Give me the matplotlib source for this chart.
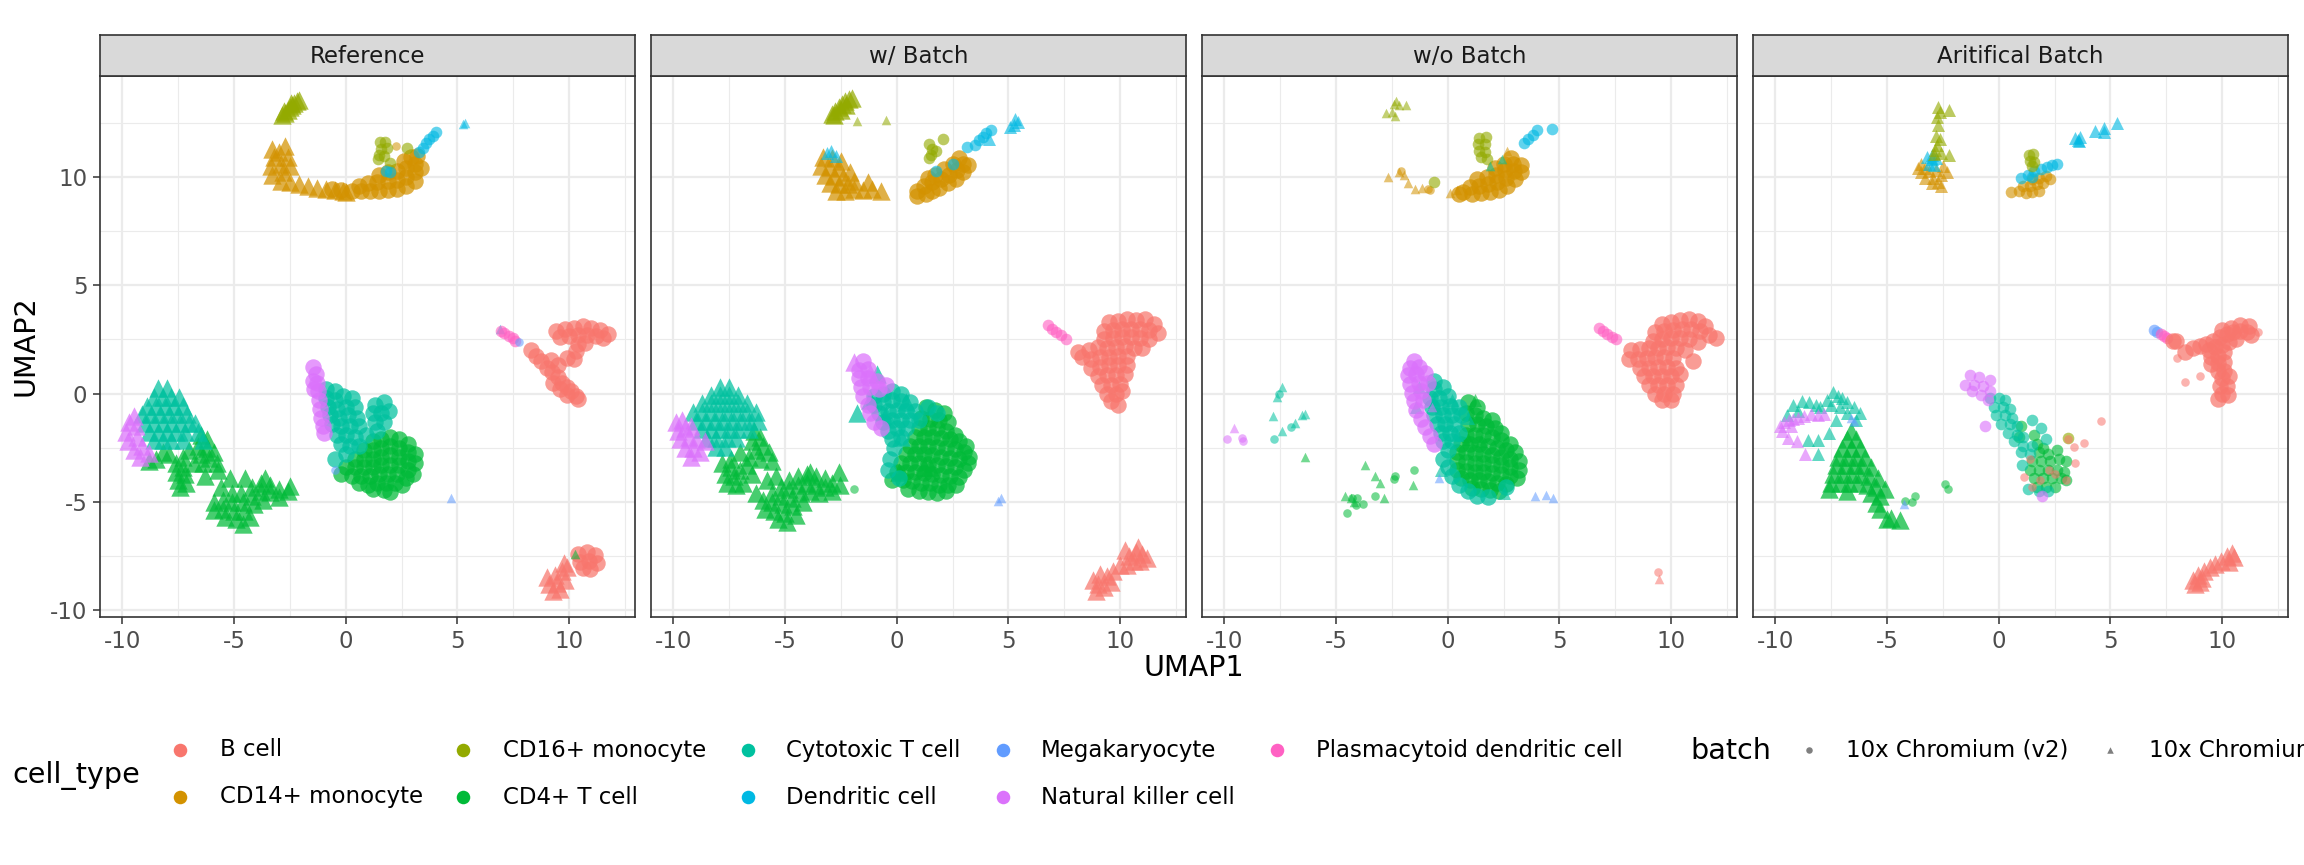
import numpy as np
import matplotlib
matplotlib.use("Agg")
import matplotlib.pyplot as plt
from matplotlib.ticker import MultipleLocator

W, H, DPI = 2304, 865, 100

panel_titles = ["Reference", "w/ Batch", "w/o Batch", "Aritifical Batch"]
cell_types = ["B cell", "CD14+ monocyte", "CD16+ monocyte", "CD4+ T cell",
              "Cytotoxic T cell", "Dendritic cell", "Megakaryocyte",
              "Natural killer cell", "Plasmacytoid dendritic cell"]
cell_colors = ["#F8766D", "#D39200", "#93AA00", "#00BA38", "#00C19F",
               "#00B9E3", "#619CFF", "#DB72FB", "#FF61C3"]
batches = ["10x Chromium (v2)", "10x Chromium (v3)"]
batch_markers = ["o", "^"]
x_ticks = [-10, -5, 0, 5, 10]
y_ticks = [-10, -5, 0, 5, 10]

# ---- Reference (v2 = circles, v3 = triangles) ----
ref_cd16_v3 = [(-2.85, 12.85), (-2.7, 12.95), (-2.6, 13.1), (-2.5, 13.2), (-2.4, 13.3),
               (-2.3, 13.4), (-2.2, 13.5), (-2.1, 13.55), (-2.75, 13.05), (-2.45, 13.4)]
ref_cd14_v3 = [(-3.3, 11.3), (-3.2, 10.9), (-3.35, 10.5), (-3.3, 10.1), (-2.9, 10.6), (-2.8, 10.2),
               (-2.6, 10.9), (-2.5, 10.5), (-2.9, 9.8), (-2.5, 9.75), (-2.1, 9.65), (-1.7, 9.6),
               (-1.3, 9.5), (-0.9, 9.45), (-0.5, 9.4), (-0.1, 9.35), (0.0, 9.3), (-2.7, 11.4),
               (-3.0, 11.15)]
ref_cd14_v2 = [(0.3, 9.35), (0.7, 9.35), (0.6, 9.6), (1.1, 9.35), (1.0, 9.7), (1.5, 9.35), (1.4, 9.75),
               (1.5, 10.1), (1.9, 9.4), (1.9, 9.8), (1.9, 10.2), (2.3, 9.45), (2.3, 9.85), (2.3, 10.25),
               (2.7, 9.6), (2.7, 10.0), (2.7, 10.4), (2.6, 10.75), (3.1, 9.8), (3.1, 10.2), (3.1, 10.6),
               (3.2, 10.95), (2.9, 10.9), (3.35, 10.4), (-0.6, 9.45), (-0.2, 9.4)]
ref_cd14_v2_sparse = [(2.27, 11.4)]
ref_cd16_v2 = [(1.55, 11.6), (1.75, 11.6), (1.6, 11.3), (1.85, 11.35), (1.5, 11.0), (1.7, 10.95),
               (1.45, 10.8), (1.99, 10.64), (2.73, 11.33)]
ref_dc_v2 = [(3.3, 11.15), (3.45, 11.35), (3.6, 11.55), (3.75, 11.75), (3.9, 11.9), (4.05, 12.05),
             (1.8, 10.25), (2.0, 10.2)]
ref_dc_v3 = [(5.33, 12.5), (5.25, 12.45), (6.9, 3.0)]
ref_pdc_v2 = [(6.95, 2.9), (7.1, 2.8), (7.3, 2.65), (7.5, 2.55), (7.6, 2.45)]
ref_mega_v2 = [(7.75, 2.4), (-0.5, -3.5)]
ref_mega_v3 = [(4.7, -4.83)]
ref_b_v2 = [(9.4, 2.9), (9.8, 3.0), (10.2, 3.05), (10.6, 3.1), (11.0, 3.05), (11.4, 2.95), (11.75, 2.75),
            (9.6, 2.6), (10.0, 2.65), (10.4, 2.7), (10.8, 2.7), (11.2, 2.65), (11.5, 2.55), (10.4, 2.3),
            (10.7, 2.35), (10.3, 1.95), (10.2, 1.6), (9.9, 1.65), (8.3, 2.0), (8.5, 1.75), (8.75, 1.5),
            (9.0, 1.2), (9.25, 1.0), (9.5, 0.75), (9.7, 0.5), (9.9, 0.3), (10.1, 0.1), (10.3, -0.1),
            (10.4, -0.25), (9.3, 0.5), (9.6, 0.2), (9.9, -0.05), (9.5, 1.3), (9.2, 1.55),
            (10.4, -7.4), (10.8, -7.3), (11.15, -7.45), (10.5, -7.75), (10.9, -7.7), (11.25, -7.8),
            (10.6, -8.05), (10.95, -8.1)]
ref_b_v3 = [(9.0, -8.45), (9.35, -8.35), (9.7, -8.2), (9.1, -8.8), (9.45, -8.75), (9.8, -8.6),
            (9.3, -9.1), (9.6, -9.0), (9.75, -7.8), (9.9, -8.0)]
ref_nk_v3 = [(-9.7, -1.3), (-9.85, -1.75), (-9.75, -2.2), (-9.5, -2.6), (-9.2, -2.9), (-9.4, -1.5),
             (-9.35, -2.0), (-9.1, -2.4), (-8.8, -2.75), (-9.5, -1.05)]
ref_cyto_v3 = [(-8.4, 0.25), (-8.0, 0.25), (-8.6, -0.15), (-8.2, -0.15), (-7.8, -0.15), (-7.45, -0.15),
               (-8.9, -0.55), (-8.5, -0.55), (-8.1, -0.55), (-7.7, -0.55), (-7.3, -0.55),
               (-9.1, -0.95), (-8.7, -0.95), (-8.3, -0.95), (-7.9, -0.95), (-7.5, -0.95), (-7.1, -0.95),
               (-9.0, -1.35), (-8.6, -1.35), (-8.2, -1.35), (-7.8, -1.35), (-7.4, -1.35), (-7.0, -1.35),
               (-6.75, -1.35), (-8.8, -1.75), (-8.4, -1.75), (-8.0, -1.75), (-7.6, -1.75), (-7.2, -1.75),
               (-6.6, -1.75), (-8.6, -2.15), (-8.2, -2.15), (-7.8, -2.15), (-7.3, -2.15), (-6.4, -2.15)]
ref_cd4_v3 = [(-6.5, -1.9), (-6.2, -2.1), (-6.6, -2.4), (-6.2, -2.5), (-5.9, -2.7), (-6.5, -2.8),
              (-6.1, -2.95), (-5.75, -3.2), (-6.4, -3.2), (-7.0, -2.6), (-7.3, -2.9), (-7.6, -3.2),
              (-7.3, -3.4), (-7.6, -3.6), (-7.2, -3.7), (-7.5, -4.0), (-7.15, -4.1), (-7.4, -4.3),
              (-8.2, -2.7), (-8.5, -3.0), (-7.9, -2.8), (-8.8, -3.1), (-6.8, -3.2), (-5.7, -3.5),
              (-5.9, -5.0), (-5.9, -5.35), (-5.5, -4.9), (-5.5, -5.3), (-5.4, -5.7), (-5.1, -4.6),
              (-5.1, -5.0), (-5.0, -5.4), (-4.9, -5.8), (-4.6, -6.0), (-4.7, -4.6), (-4.6, -5.0),
              (-4.55, -5.4), (-4.3, -5.7), (-4.2, -4.3), (-4.2, -4.7), (-4.1, -5.1), (-3.8, -4.1),
              (-3.8, -4.5), (-3.7, -4.9), (-3.4, -4.2), (-3.4, -4.55), (-3.0, -4.4), (-3.0, -4.75),
              (-2.6, -4.5), (-2.5, -4.25), (-5.6, -4.3), (-6.3, -3.8), (-5.2, -3.9), (-3.6, -3.9),
              (-4.5, -3.9)]
ref_cd4_v3_sparse = [(10.25, -7.4)]
ref_nk_v2 = [(-1.45, 1.25), (-1.35, 0.9), (-1.3, 0.5), (-1.25, 0.1), (-1.2, -0.3), (-1.15, -0.7),
             (-1.1, -1.1), (-1.0, -1.5), (-0.95, -1.8), (-1.45, 0.6), (-1.4, 0.2)]
ref_cyto_v2 = [(-0.9, 0.2), (-0.5, 0.1), (-0.9, -0.2), (-0.5, -0.3), (-0.1, -0.1), (0.3, -0.2),
               (-0.8, -0.6), (-0.4, -0.7), (0.0, -0.6), (0.4, -0.6), (-0.7, -1.0), (-0.3, -1.1),
               (0.1, -1.0), (0.5, -1.1), (-0.6, -1.4), (-0.2, -1.5), (0.2, -1.5), (0.6, -1.5),
               (1.3, -0.5), (1.7, -0.4), (1.2, -0.9), (1.6, -0.9), (1.95, -0.8), (1.3, -1.3),
               (1.7, -1.3), (1.4, -1.7), (-0.4, -1.9), (0.0, -1.9), (0.4, -2.0), (0.9, -1.9),
               (-0.2, -2.3), (0.2, -2.4), (0.6, -2.4), (0.0, -2.8), (-0.5, -3.0)]
ref_cd4_v2 = [(1.2, -2.2), (1.6, -2.1), (2.0, -2.0), (2.4, -2.1), (2.8, -2.3), (0.8, -2.6), (1.2, -2.6),
              (1.6, -2.5), (2.0, -2.4), (2.4, -2.5), (2.8, -2.7), (3.1, -2.8), (0.4, -3.0), (0.8, -3.0),
              (1.2, -3.0), (1.6, -2.9), (2.0, -2.85), (2.4, -2.9), (2.8, -3.1), (3.1, -3.2), (0.0, -3.4),
              (0.4, -3.4), (0.8, -3.4), (1.2, -3.4), (1.6, -3.3), (2.0, -3.3), (2.4, -3.3), (2.8, -3.5),
              (3.0, -3.7), (-0.2, -3.7), (0.3, -3.8), (0.7, -3.8), (1.1, -3.8), (1.5, -3.7), (1.9, -3.7),
              (2.3, -3.7), (2.7, -3.9), (0.6, -4.1), (1.0, -4.2), (1.4, -4.1), (1.8, -4.1), (2.2, -4.1),
              (2.5, -4.2), (1.2, -4.4), (1.7, -4.45), (2.0, -4.55)]

# ---- w/ Batch ----
wb_cd16_v3 = [(-2.9, 12.9), (-2.75, 13.05), (-2.6, 13.2), (-2.45, 13.35), (-2.3, 13.5), (-2.15, 13.6),
              (-2.0, 13.65), (-2.5, 13.1), (-2.25, 13.3), (-2.8, 12.85)]
wb_cd16_v3_sparse = [(-1.76, 12.58), (-0.48, 12.62)]
wb_cd14_v3 = [(-3.3, 10.9), (-2.9, 10.85), (-2.5, 10.75), (-3.4, 10.5), (-3.0, 10.45), (-2.6, 10.4),
              (-3.2, 10.1), (-2.8, 10.05), (-2.4, 10.0), (-3.0, 9.7), (-2.6, 9.65), (-2.2, 9.65),
              (-2.7, 9.35), (-2.3, 9.35), (-1.9, 9.45), (-1.5, 9.4), (-1.1, 9.45), (-0.7, 9.35),
              (-1.3, 9.75), (-1.9, 9.8), (-2.1, 10.2)]
wb_dc_v3 = [(-3.13, 11.1), (-2.7, 10.95), (-2.95, 11.2), (5.05, 12.3), (5.25, 12.4), (5.45, 12.55),
            (5.3, 12.65), (4.15, 11.75)]
wb_cd14_v2 = [(0.9, 9.35), (1.3, 9.2), (1.2, 9.6), (1.6, 9.35), (1.6, 9.75), (1.9, 9.5), (2.0, 9.9),
              (1.7, 10.1), (2.3, 9.7), (2.35, 10.1), (2.1, 10.35), (2.65, 9.9), (2.7, 10.3), (2.5, 10.6),
              (2.95, 10.2), (2.95, 10.6), (2.8, 10.85), (3.2, 10.55), (1.4, 9.95), (0.9, 9.1)]
wb_cd16_v2 = [(1.45, 11.5), (1.6, 11.3), (1.55, 11.0), (1.45, 10.85), (1.75, 11.2), (2.05, 11.75)]
wb_dc_v2 = [(3.5, 11.45), (3.7, 11.7), (3.85, 11.85), (4.0, 12.0), (4.2, 12.15), (3.13, 11.37),
            (1.76, 10.25), (2.5, 10.6)]
wb_pdc_v2 = [(6.75, 3.15), (6.95, 3.0), (7.15, 2.85), (7.35, 2.7), (7.6, 2.5)]
wb_b_v2 = [(9.5, 3.3), (9.9, 3.35), (10.3, 3.45), (10.7, 3.4), (11.1, 3.45), (11.5, 3.2), (9.3, 2.9),
           (9.7, 2.95), (10.1, 3.0), (10.5, 3.0), (10.9, 3.0), (11.3, 2.95), (11.7, 2.8), (9.3, 2.5),
           (9.7, 2.55), (10.1, 2.6), (10.5, 2.6), (10.9, 2.55), (11.3, 2.5), (8.6, 2.0), (9.0, 2.15),
           (9.4, 2.1), (9.8, 2.15), (10.2, 2.2), (10.6, 2.1), (8.3, 1.7), (8.7, 1.6), (9.1, 1.7),
           (9.5, 1.7), (9.9, 1.75), (10.3, 1.75), (8.7, 1.2), (9.1, 1.25), (9.5, 1.3), (9.9, 1.3),
           (10.3, 1.3), (9.0, 0.8), (9.4, 0.85), (9.8, 0.85), (10.2, 0.9), (9.2, 0.4), (9.6, 0.4),
           (10.0, 0.45), (9.4, 0.0), (9.8, 0.0), (10.1, 0.1), (9.6, -0.35), (9.9, -0.5), (11.0, 2.1),
           (8.1, 1.9)]
wb_b_v3 = [(8.8, -8.6), (9.1, -8.3), (9.4, -8.4), (9.7, -8.2), (9.0, -8.8), (9.3, -8.9), (9.6, -8.7),
           (8.9, -9.1), (10.0, -7.9), (10.3, -7.9), (10.4, -7.5), (10.7, -7.3), (11.0, -7.4),
           (10.6, -7.7), (10.9, -7.7), (11.2, -7.6), (10.2, -7.2), (10.8, -7.05)]
wb_nk_v3 = [(-9.9, -1.3), (-9.6, -1.2), (-9.8, -1.7), (-9.5, -1.6), (-9.2, -1.5), (-9.7, -2.1),
            (-9.3, -2.0), (-9.0, -2.1), (-9.5, -2.5), (-9.1, -2.5), (-9.2, -2.9), (-8.8, -2.7),
            (-8.6, -2.2), (-1.9, 1.45), (-1.2, 0.95)]
wb_cyto_v3 = [(-7.9, 0.3), (-7.5, 0.3), (-8.3, -0.05), (-7.9, -0.05), (-7.5, -0.05), (-7.1, -0.05),
              (-8.7, -0.45), (-8.3, -0.45), (-7.9, -0.45), (-7.5, -0.45), (-7.1, -0.45), (-6.7, -0.45),
              (-9.1, -0.85), (-8.7, -0.85), (-8.3, -0.85), (-7.9, -0.85), (-7.5, -0.85), (-7.1, -0.85),
              (-6.7, -0.85), (-6.3, -0.85), (-9.0, -1.25), (-8.6, -1.25), (-8.2, -1.25), (-7.8, -1.25),
              (-7.4, -1.25), (-7.0, -1.25), (-6.6, -1.25), (-6.2, -1.25), (-8.7, -1.65), (-8.3, -1.65),
              (-7.9, -1.65), (-7.5, -1.65), (-7.1, -1.65), (-6.6, -1.65), (-8.5, -2.05), (-8.1, -2.05),
              (-7.6, -2.05), (-7.2, -2.05), (-8.1, -2.45), (-7.7, -2.45),
              (-1.8, -0.9), (-1.2, -0.3), (-0.5, -1.0), (0.2, -2.0), (0.4, -0.4), (-0.9, 0.9)]
wb_cd4_v3 = [(-6.4, -1.7), (-6.1, -2.0), (-6.5, -2.2), (-6.0, -2.4), (-5.7, -2.7), (-6.3, -2.6),
             (-6.6, -2.9), (-6.1, -3.0), (-5.6, -3.1), (-7.0, -2.7), (-7.4, -3.0), (-7.8, -3.2),
             (-7.4, -3.4), (-7.7, -3.7), (-7.3, -3.8), (-7.0, -3.5), (-6.7, -3.3), (-7.2, -4.2),
             (-7.6, -4.1), (-6.5, -3.7), (-6.9, -4.1),
             (-6.0, -4.9), (-5.9, -5.3), (-5.6, -4.6), (-5.6, -5.0), (-5.5, -5.4), (-5.3, -5.8),
             (-5.2, -4.3), (-5.2, -4.7), (-5.1, -5.1), (-5.0, -5.5), (-4.9, -5.9), (-4.8, -4.0),
             (-4.8, -4.4), (-4.7, -4.8), (-4.65, -5.2), (-4.5, -5.6), (-4.4, -3.8), (-4.4, -4.2),
             (-4.3, -4.6), (-4.2, -5.0), (-4.0, -3.7), (-4.0, -4.1), (-3.9, -4.5), (-3.6, -3.8),
             (-3.6, -4.2), (-3.5, -4.6), (-3.2, -3.9), (-3.2, -4.3), (-2.9, -4.1), (-2.9, -4.5),
             (-2.55, -4.2), (-2.6, -3.6), (-3.9, -3.6), (-5.4, -3.8), (-6.3, -4.6), (-5.8, -4.0),
             (1.2, -3.4), (0.1, -3.6), (1.5, -3.4)]
wb_cd4_v2_sparse = [(-1.9, -4.4)]
wb_cd4_v2 = [(1.3, -0.6), (1.7, -0.75), (2.1, -0.9), (1.1, -1.1), (1.5, -1.15), (1.9, -1.2),
             (2.3, -1.3), (1.0, -1.6), (1.4, -1.6), (1.8, -1.6), (2.2, -1.7), (2.6, -1.9), (0.8, -2.0),
             (1.2, -2.0), (1.6, -2.0), (2.0, -2.05), (2.4, -2.1), (2.8, -2.2), (3.1, -2.4), (0.6, -2.4),
             (1.0, -2.4), (1.4, -2.4), (1.8, -2.45), (2.2, -2.5), (2.6, -2.55), (3.0, -2.7), (3.25, -2.9),
             (0.4, -2.8), (0.8, -2.8), (1.2, -2.8), (1.6, -2.85), (2.0, -2.9), (2.4, -2.95), (2.8, -3.0),
             (3.2, -3.2), (0.2, -3.2), (0.6, -3.2), (1.0, -3.2), (1.4, -3.25), (1.8, -3.3), (2.2, -3.35),
             (2.6, -3.4), (3.0, -3.5), (0.0, -3.6), (0.4, -3.6), (0.8, -3.6), (1.2, -3.65), (1.6, -3.7),
             (2.0, -3.75), (2.4, -3.8), (2.8, -3.85), (-0.2, -4.0), (0.3, -4.0), (0.7, -4.05),
             (1.1, -4.1), (1.5, -4.1), (1.9, -4.2), (2.3, -4.2), (2.65, -4.2), (0.5, -4.4), (1.0, -4.5),
             (1.4, -4.55), (1.8, -4.6), (2.2, -4.5)]
wb_nk_v2 = [(-1.5, 1.5), (-1.7, 1.1), (-1.3, 1.15), (-1.7, 0.7), (-1.3, 0.7), (-0.9, 0.6), (-0.5, 0.4),
            (-1.6, 0.3), (-1.2, 0.3), (-0.8, 0.2), (-1.5, -0.1), (-1.3, -0.5), (-1.2, -0.9), (-1.0, -1.3),
            (-0.7, -1.6)]
wb_cyto_v2 = [(-1.0, -0.1), (-0.6, 0.0), (-0.2, 0.1), (0.2, 0.0), (-1.0, -0.5), (-0.6, -0.4), (-0.2, -0.3),
              (0.2, -0.35), (0.6, -0.4), (-0.8, -0.9), (-0.4, -0.8), (0.0, -0.75), (0.4, -0.8), (0.8, -0.8),
              (-0.6, -1.3), (-0.2, -1.2), (0.2, -1.2), (0.6, -1.2), (1.0, -1.2), (-0.4, -1.7), (0.0, -1.6),
              (0.4, -1.6), (-0.2, -2.1), (0.2, -2.0), (-0.1, -2.5), (-0.3, -3.0), (-0.4, -3.5),
              (1.4, -0.6), (1.8, -0.9), (0.1, -3.9)]
wb_mega_v3 = [(4.66, -4.8), (4.55, -4.95)]

# ---- w/o Batch ----
wo_cd16_v3 = [(-2.75, 12.95), (-2.5, 13.0), (-2.3, 13.5), (-2.2, 13.3), (-1.85, 13.3), (-2.35, 12.8),
              (-2.4, 13.35)]
wo_cd14_v3 = [(-2.66, 9.97), (-2.17, 10.2), (-1.76, 9.7), (-1.45, 9.45), (-1.15, 9.5), (0.08, 9.27),
              (-1.95, 10.1), (2.65, 11.2), (0.4, 9.4)]
wo_cd14_v2_sparse = [(-2.1, 10.25), (-0.78, 9.4), (-0.9, 9.45)]
wo_cd14_v2 = [(0.7, 9.3), (1.1, 9.2), (1.0, 9.55), (1.5, 9.25),
              (1.4, 9.6), (1.3, 9.9), (1.9, 9.3), (1.8, 9.65), (1.75, 10.0), (2.3, 9.4), (2.2, 9.75),
              (2.15, 10.1), (2.1, 10.4), (2.65, 9.6), (2.6, 9.95), (2.55, 10.3), (2.5, 10.6), (3.0, 9.9),
              (2.95, 10.25), (2.9, 10.6), (2.85, 10.85), (3.3, 10.2), (3.3, 10.55), (0.5, 9.2)]
wo_cd16_v2 = [(-0.6, 9.74), (1.4, 11.8), (1.7, 11.85), (1.35, 11.5), (1.65, 11.5), (1.4, 11.2),
              (1.65, 11.15), (1.5, 10.9), (1.75, 10.8)]
wo_dc_v2 = [(3.4, 11.55), (3.6, 11.75), (3.8, 11.95), (4.0, 12.15), (4.68, 12.2)]
wo_pdc_v2 = [(6.75, 3.05), (6.95, 2.9), (7.15, 2.75), (7.35, 2.6), (7.55, 2.5)]
wo_b_v2 = [(9.6, 3.2), (10.0, 3.3), (10.4, 3.4), (10.8, 3.45), (11.2, 3.35), (11.5, 3.1), (9.3, 2.85),
           (9.7, 2.9), (10.1, 2.95), (10.5, 3.0), (10.9, 3.0), (11.3, 2.9), (11.7, 2.7), (12.0, 2.55),
           (9.2, 2.45), (9.6, 2.5), (10.0, 2.55), (10.4, 2.55), (10.8, 2.5), (11.2, 2.4), (8.2, 2.0),
           (8.6, 2.05), (9.0, 2.1), (9.4, 2.1), (9.8, 2.15), (10.2, 2.1), (10.6, 2.0), (8.1, 1.6),
           (8.5, 1.6), (8.9, 1.65), (9.3, 1.7), (9.7, 1.7), (10.1, 1.65), (8.6, 1.2), (9.0, 1.2),
           (9.4, 1.25), (9.8, 1.25), (10.2, 1.2), (8.8, 0.8), (9.2, 0.8), (9.6, 0.8), (10.0, 0.8),
           (10.4, 0.9), (9.0, 0.4), (9.4, 0.4), (9.8, 0.4), (10.2, 0.4), (9.3, 0.0), (9.7, 0.0),
           (10.1, 0.0), (9.6, -0.3), (10.0, -0.3), (11.0, 1.5)]
wo_b_v2_sparse = [(9.43, -8.22)]
wo_b_v3 = [(9.46, -8.53)]
wo_nk_v3 = [(-9.57, -1.6), (-0.7, -0.6)]
wo_nk_v2_sparse = [(-9.86, -2.07), (-9.2, -2.03), (-9.17, -2.18)]
wo_nk_v2 = [(-1.5, 1.5), (-1.7, 1.2), (-1.3, 1.25),
            (-1.8, 0.85), (-1.4, 0.9), (-1.0, 0.95), (-1.7, 0.45), (-1.3, 0.5), (-0.9, 0.5), (-1.6, 0.05),
            (-1.2, 0.1), (-1.5, -0.35), (-1.1, -0.3), (-1.4, -0.75), (-1.2, -1.15), (-1.0, -1.55),
            (-0.8, -1.95), (-0.6, -2.3)]
wo_cyto_v3_sparse = [(-7.44, 0.29), (-7.65, -0.17), (-7.8, -1.02), (-7.41, -1.72), (-6.85, -1.33),
                     (-6.53, -1.0), (-6.37, -0.94), (1.9, 10.5), (2.45, 10.8)]
wo_cyto_v3 = [(-1.4, -0.6), (-1.3, 0.3), (-0.6, -0.4),
              (0.9, -1.1), (0.4, -1.9), (0.2, -0.3), (-0.3, -3.5), (2.5, -4.6)]
wo_cyto_v2_sparse = [(-7.57, -0.02), (-7.78, -2.07), (-7.0, -1.56)]
wo_cyto_v2 = [(-0.6, 0.6), (-0.6, 0.2), (-0.2, 0.3),
              (-0.8, -0.2), (-0.4, -0.2), (0.0, -0.1), (-0.7, -0.6), (-0.3, -0.6), (0.1, -0.55), (0.5, -0.6),
              (-0.6, -1.0), (-0.2, -1.0), (0.2, -1.0), (0.6, -1.0), (-0.5, -1.4), (-0.1, -1.4), (0.3, -1.4),
              (-0.3, -1.8), (0.1, -1.8), (0.5, -1.8), (-0.2, -2.2), (0.2, -2.2), (0.0, -2.6), (-0.2, -3.0),
              (0.0, -3.4), (0.2, -3.8), (0.5, -4.2), (0.9, -4.5), (1.3, -4.7), (1.8, -4.75), (2.6, -4.3)]
wo_cd4_v3_sparse = [(-6.41, -2.91), (-3.72, -3.27), (-3.24, -3.78), (-3.05, -4.12), (-1.56, -4.2),
                    (-4.6, -4.74), (-4.35, -4.81), (-2.84, -4.81), (-4.2, -5.0)]
wo_cd4_v3 = [(0.9, -2.1), (1.5, -2.2), (1.2, -0.3)]
wo_cd4_v2_sparse = [(-2.36, -3.78), (-2.4, -3.95), (-1.51, -3.5), (-4.04, -4.81), (-3.24, -4.74),
                    (-4.49, -5.51), (-4.12, -5.12), (-3.8, -5.1), (-4.3, -4.8)]
wo_cd4_v2 = [(0.9, -0.4), (1.3, -0.6), (0.8, -0.9), (1.2, -1.0), (1.6, -1.1), (2.0, -1.2), (0.9, -1.4),
             (1.3, -1.4), (1.7, -1.5), (2.1, -1.6), (2.4, -1.8), (0.8, -1.9), (1.2, -1.9), (1.6, -1.9),
             (2.0, -2.0), (2.4, -2.15), (2.8, -2.3), (0.6, -2.3), (1.0, -2.3), (1.4, -2.3), (1.8, -2.4),
             (2.2, -2.5), (2.6, -2.6), (3.0, -2.7), (0.4, -2.7), (0.8, -2.7), (1.2, -2.75), (1.6, -2.8),
             (2.0, -2.85), (2.4, -2.9), (2.8, -3.0), (3.2, -3.1), (0.4, -3.1), (0.8, -3.15), (1.2, -3.2),
             (1.6, -3.2), (2.0, -3.25), (2.4, -3.3), (2.8, -3.4), (3.2, -3.5), (0.4, -3.5), (0.8, -3.55),
             (1.2, -3.6), (1.6, -3.6), (2.0, -3.65), (2.4, -3.7), (2.8, -3.8), (3.1, -3.9), (0.6, -3.9),
             (1.0, -4.0), (1.4, -4.0), (1.8, -4.05), (2.2, -4.1), (2.6, -4.15), (1.1, -4.35), (1.5, -4.4),
             (1.9, -4.45), (2.3, -4.5)]
wo_mega_v3 = [(3.9, -4.74), (4.38, -4.66), (4.7, -4.81), (-0.4, -3.9)]

# ---- Aritifical Batch ----
ab_cd16_v3 = [(-2.63, 12.97), (-2.23, 13.1), (-2.7, 13.2), (-2.75, 12.75), (-2.7, 12.4), (-2.8, 11.9),
              (-2.65, 11.75), (-2.23, 11.0), (-2.87, 11.25), (-2.75, 11.45), (-2.6, 11.1), (-2.9, 11.05)]
ab_cd14_v3 = [(-3.5, 10.6), (-3.3, 10.4), (-3.5, 10.2), (-3.1, 10.25), (-2.8, 10.3), (-2.5, 10.5),
              (-3.3, 9.95), (-2.95, 9.95), (-2.6, 10.1), (-3.0, 9.7), (-2.7, 9.75), (-2.6, 9.58),
              (-2.3, 10.2), (-3.6, 10.4)]
ab_dc_v3 = [(-3.2, 10.9), (-3.0, 10.8), (-2.8, 10.85), (-3.1, 10.6), (-2.9, 10.55), (-3.0, 11.0),
            (3.42, 11.8), (3.58, 11.65), (3.65, 11.85), (4.31, 12.1), (4.72, 12.27), (4.72, 12.05),
            (5.3, 12.5), (3.55, 11.7)]
ab_cd16_v2 = [(1.35, 11.0), (1.55, 11.05), (1.4, 10.75), (1.6, 10.7), (1.5, 10.5), (3.1, -2.05)]
ab_dc_v2 = [(1.3, 10.1), (1.6, 10.25), (1.9, 10.35), (2.15, 10.45), (2.4, 10.55), (2.6, 10.6), (1.5, 10.0),
            (1.0, 9.95)]
ab_cd14_v2 = [(0.9, 9.35), (1.2, 9.25), (1.5, 9.3), (1.8, 9.35), (1.1, 9.6), (1.4, 9.6), (1.7, 9.65),
              (2.0, 9.7), (1.5, 9.9), (1.8, 9.95), (2.1, 10.05), (0.55, 9.3), (2.3, 9.9)]
ab_mega_v2 = [(6.95, 2.95), (7.1, 2.85)]
ab_pdc_v2 = [(7.25, 2.75), (7.4, 2.65), (7.55, 2.55)]
ab_b_v2 = [(7.8, 2.45), (7.95, 2.45), (8.35, 1.94), (8.7, 2.1), (9.0, 2.2), (9.3, 2.3), (9.6, 2.45),
           (9.9, 2.6), (10.2, 2.75), (10.5, 2.85), (10.8, 2.9), (11.1, 2.85), (11.3, 2.7), (10.0, 2.95),
           (10.4, 3.05), (10.8, 3.15), (11.2, 3.1), (9.4, 2.0), (9.7, 2.15), (10.0, 2.25), (10.3, 2.4),
           (10.6, 2.5), (9.5, 1.7), (9.8, 1.75), (10.1, 1.9), (9.5, 1.35), (9.8, 1.4), (10.1, 1.45),
           (9.8, 1.05), (10.1, 1.05), (10.3, 0.8), (10.0, 0.7), (9.9, 0.35), (10.2, 0.35), (10.0, 0.0),
           (10.25, -0.05), (9.8, -0.23)]
ab_b_v2_sparse = [(7.98, 1.63), (8.35, 0.54), (9.0, 0.82), (11.6, 2.83),
                  (1.12, -3.84), (1.4, -3.0), (1.85, -4.0), (2.25, -3.5), (3.12, -2.1), (3.35, -2.45),
                  (3.84, -2.29), (3.4, -3.2), (4.56, -1.27), (3.0, -4.0), (2.5, -3.7), (1.5, -4.3)]
ab_b_v3 = [(8.7, -8.6), (8.9, -8.35), (9.1, -8.5), (9.2, -8.2), (9.45, -8.0), (9.7, -7.85), (9.95, -7.7),
           (10.2, -7.5), (10.45, -7.35), (10.55, -7.55), (10.3, -7.75), (9.0, -8.7), (8.8, -8.8)]
ab_nk_v3 = [(-9.8, -1.5), (-9.6, -1.3), (-9.4, -1.2), (-9.2, -1.15), (-9.0, -1.1), (-8.7, -1.05),
            (-8.4, -0.95), (-8.1, -1.0), (-7.8, -0.95), (-9.7, -1.7), (-9.44, -2.03), (-9.04, -2.18),
            (-8.69, -2.76), (-9.3, -1.5)]
ab_cyto_v3 = [(-9.2, -0.5), (-8.8, -0.35), (-8.5, -0.4), (-8.2, -0.5), (-8.0, -0.6), (-7.7, -0.3),
              (-7.4, 0.06), (-7.2, -0.1), (-7.0, -0.2), (-6.8, -0.4), (-6.5, -0.6), (-6.2, -0.9),
              (-7.5, -0.5), (-7.1, -0.6), (-6.8, -0.9), (-6.4, -1.2), (-8.56, -2.14), (-8.08, -2.76),
              (-8.08, -2.14), (-7.6, -1.8), (-9.0, -0.8), (-9.5, -1.0), (-7.3, -1.2)]
ab_mega_v3 = [(-6.48, -1.25), (-6.6, -1.1), (-4.24, -5.08)]
ab_cd4_v3 = [(-6.6, -1.7), (-6.8, -2.1), (-6.4, -2.1), (-7.0, -2.5), (-6.6, -2.5), (-6.2, -2.5),
             (-7.2, -2.9), (-6.8, -2.9), (-6.4, -2.9), (-6.0, -2.9), (-7.3, -3.3), (-6.9, -3.3),
             (-6.5, -3.3), (-6.1, -3.3), (-5.7, -3.4), (-7.4, -3.7), (-7.0, -3.7), (-6.6, -3.7),
             (-6.2, -3.7), (-5.8, -3.8), (-5.4, -3.9), (-7.5, -4.1), (-7.1, -4.1), (-6.7, -4.1),
             (-6.3, -4.1), (-5.9, -4.2), (-5.5, -4.3), (-5.1, -4.4), (-7.6, -4.4), (-6.8, -4.5),
             (-5.7, -4.6), (-5.3, -4.7), (-5.5, -5.05), (-5.3, -5.3), (-5.0, -5.8), (-4.8, -5.75),
             (-4.4, -5.82)]
ab_cd4_v2_sparse = [(-4.19, -4.94), (-3.9, -5.0), (-3.76, -4.74), (-2.4, -4.15), (-2.29, -4.4)]
ab_cd4_v2 = [(1.0, -1.5), (1.6, -1.9), (2.0, -2.5), (1.7, -2.3), (1.8, -2.7), (2.2, -2.8), (2.6, -2.6),
             (1.5, -3.1), (1.9, -3.1), (2.3, -3.1), (2.7, -3.0), (3.0, -3.1), (1.4, -3.5), (1.8, -3.5),
             (2.2, -3.5), (2.6, -3.5), (2.9, -3.6), (1.6, -3.9), (2.0, -3.9), (2.4, -3.9), (2.8, -3.9),
             (1.7, -4.3), (2.1, -4.3), (2.5, -4.3), (3.0, -4.0), (0.9, -2.0)]
ab_nk_v2 = [(-1.28, 0.84), (-0.9, 0.75), (-0.4, 0.65), (-1.5, 0.4), (-1.1, 0.4), (-0.7, 0.35), (-1.2, 0.1),
            (-0.8, -0.05), (-0.4, 0.1), (-0.5, -0.3), (1.92, -4.7), (-0.6, -1.5)]
ab_cyto_v2 = [(-0.4, -0.2), (0.0, -0.2), (0.3, -0.3), (-0.2, -0.6), (0.2, -0.6), (0.5, -0.7), (-0.1, -1.0),
              (0.3, -1.0), (0.6, -1.1), (0.1, -1.4), (0.5, -1.4), (0.8, -1.5), (0.4, -1.8), (0.8, -1.9),
              (1.1, -2.0), (0.7, -2.2), (1.1, -2.4), (1.5, -2.4), (1.0, -2.7), (1.4, -2.8), (1.05, -3.3),
              (1.5, -1.2), (1.9, -1.6), (2.1, -2.1), (1.3, -4.4), (1.8, -4.5), (2.2, -4.5)]

# panel index, cell type, batch index, points, density (drawn in this order)
series = [
    (0, "CD14+ monocyte", 1, ref_cd14_v3, "d"), (0, "CD14+ monocyte", 0, ref_cd14_v2, "d"),
    (0, "CD14+ monocyte", 0, ref_cd14_v2_sparse, "s"),
    (0, "CD16+ monocyte", 1, ref_cd16_v3, "d"), (0, "CD16+ monocyte", 0, ref_cd16_v2, "m"),
    (0, "Dendritic cell", 0, ref_dc_v2, "m"), (0, "Dendritic cell", 1, ref_dc_v3, "s"),
    (0, "Plasmacytoid dendritic cell", 0, ref_pdc_v2, "m"),
    (0, "B cell", 0, ref_b_v2, "d"), (0, "B cell", 1, ref_b_v3, "d"),
    (0, "CD4+ T cell", 1, ref_cd4_v3, "d"), (0, "CD4+ T cell", 1, ref_cd4_v3_sparse, "s"),
    (0, "CD4+ T cell", 0, ref_cd4_v2, "d"),
    (0, "Cytotoxic T cell", 1, ref_cyto_v3, "d"), (0, "Cytotoxic T cell", 0, ref_cyto_v2, "d"),
    (0, "Natural killer cell", 1, ref_nk_v3, "d"), (0, "Natural killer cell", 0, ref_nk_v2, "d"),
    (0, "Megakaryocyte", 0, ref_mega_v2, "s"), (0, "Megakaryocyte", 1, ref_mega_v3, "s"),

    (1, "CD14+ monocyte", 1, wb_cd14_v3, "d"), (1, "CD14+ monocyte", 0, wb_cd14_v2, "d"),
    (1, "CD16+ monocyte", 1, wb_cd16_v3, "d"), (1, "CD16+ monocyte", 1, wb_cd16_v3_sparse, "s"),
    (1, "CD16+ monocyte", 0, wb_cd16_v2, "m"),
    (1, "Dendritic cell", 0, wb_dc_v2, "m"), (1, "Dendritic cell", 1, wb_dc_v3, "m"),
    (1, "Plasmacytoid dendritic cell", 0, wb_pdc_v2, "m"),
    (1, "B cell", 0, wb_b_v2, "d"), (1, "B cell", 1, wb_b_v3, "d"),
    (1, "CD4+ T cell", 1, wb_cd4_v3, "d"), (1, "CD4+ T cell", 0, wb_cd4_v2, "d"),
    (1, "CD4+ T cell", 0, wb_cd4_v2_sparse, "s"),
    (1, "Cytotoxic T cell", 0, wb_cyto_v2, "d"), (1, "Cytotoxic T cell", 1, wb_cyto_v3, "d"),
    (1, "Natural killer cell", 0, wb_nk_v2, "d"), (1, "Natural killer cell", 1, wb_nk_v3, "d"),
    (1, "Megakaryocyte", 1, wb_mega_v3, "s"),

    (2, "CD14+ monocyte", 1, wo_cd14_v3, "s"), (2, "CD14+ monocyte", 0, wo_cd14_v2, "d"),
    (2, "CD14+ monocyte", 0, wo_cd14_v2_sparse, "s"),
    (2, "CD16+ monocyte", 1, wo_cd16_v3, "s"), (2, "CD16+ monocyte", 0, wo_cd16_v2, "m"),
    (2, "Dendritic cell", 0, wo_dc_v2, "m"),
    (2, "Plasmacytoid dendritic cell", 0, wo_pdc_v2, "m"),
    (2, "B cell", 0, wo_b_v2, "d"), (2, "B cell", 0, wo_b_v2_sparse, "s"), (2, "B cell", 1, wo_b_v3, "s"),
    (2, "CD4+ T cell", 0, wo_cd4_v2, "d"), (2, "CD4+ T cell", 0, wo_cd4_v2_sparse, "s"),
    (2, "CD4+ T cell", 1, wo_cd4_v3, "m"), (2, "CD4+ T cell", 1, wo_cd4_v3_sparse, "s"),
    (2, "Cytotoxic T cell", 0, wo_cyto_v2, "d"), (2, "Cytotoxic T cell", 0, wo_cyto_v2_sparse, "s"),
    (2, "Cytotoxic T cell", 1, wo_cyto_v3, "m"), (2, "Cytotoxic T cell", 1, wo_cyto_v3_sparse, "s"),
    (2, "Natural killer cell", 0, wo_nk_v2, "d"), (2, "Natural killer cell", 0, wo_nk_v2_sparse, "s"),
    (2, "Natural killer cell", 1, wo_nk_v3, "s"),
    (2, "Megakaryocyte", 1, wo_mega_v3, "s"),

    (3, "CD14+ monocyte", 1, ab_cd14_v3, "m"), (3, "CD14+ monocyte", 0, ab_cd14_v2, "m"),
    (3, "Dendritic cell", 1, ab_dc_v3, "m"), (3, "Dendritic cell", 0, ab_dc_v2, "m"),
    (3, "CD16+ monocyte", 1, ab_cd16_v3, "m"), (3, "CD16+ monocyte", 0, ab_cd16_v2, "m"),
    (3, "Megakaryocyte", 0, ab_mega_v2, "m"), (3, "Plasmacytoid dendritic cell", 0, ab_pdc_v2, "m"),
    (3, "CD4+ T cell", 1, ab_cd4_v3, "d"), (3, "CD4+ T cell", 0, ab_cd4_v2, "m"),
    (3, "CD4+ T cell", 0, ab_cd4_v2_sparse, "s"),
    (3, "Cytotoxic T cell", 1, ab_cyto_v3, "m"), (3, "Cytotoxic T cell", 0, ab_cyto_v2, "m"),
    (3, "Natural killer cell", 1, ab_nk_v3, "m"), (3, "Natural killer cell", 0, ab_nk_v2, "m"),
    (3, "Megakaryocyte", 1, ab_mega_v3, "s"),
    (3, "B cell", 0, ab_b_v2, "d"), (3, "B cell", 0, ab_b_v2_sparse, "s"), (3, "B cell", 1, ab_b_v3, "d"),
]

TICK_FS = 16.5
TITLE_FS = 20.6
GRID = "#EBEBEB"
DARK = "#333333"
SIZES = {"d": 140, "m": 70, "s": 38}
ALPHAS = {"d": 0.72, "m": 0.62, "s": 0.55}

fig = plt.figure(figsize=(W / DPI, H / DPI), dpi=DPI)
fig.patch.set_facecolor("white")

panel_lefts = [100, 651, 1202, 1753]
panel_w = 535
plot_top, plot_bot = 76, 617
strip_top = 35

axes = []
for i, left in enumerate(panel_lefts):
    ax = fig.add_axes([left / W, 1 - plot_bot / H, panel_w / W, (plot_bot - plot_top) / H])
    ax.set_xlim(-11.0, 12.95)
    ax.set_ylim(-10.3, 14.65)
    ax.set_xticks(x_ticks)
    ax.set_yticks(y_ticks)
    ax.xaxis.set_minor_locator(MultipleLocator(2.5))
    ax.yaxis.set_minor_locator(MultipleLocator(2.5))
    ax.grid(which="major", color=GRID, linewidth=1.6)
    ax.grid(which="minor", color=GRID, linewidth=0.8)
    ax.set_axisbelow(True)
    ax.tick_params(which="minor", length=0)
    ax.tick_params(which="major", length=5, width=1.1, color=DARK, labelsize=TICK_FS,
                   labelcolor="#4D4D4D", pad=4)
    for sp in ax.spines.values():
        sp.set_color(DARK)
        sp.set_linewidth(1.2)
    if i > 0:
        ax.tick_params(axis="y", left=False, labelleft=False)
    ax.set_xticklabels([str(t) for t in x_ticks])
    ax.set_yticklabels([str(t) for t in y_ticks])

    # facet strip
    sax = fig.add_axes([left / W, 1 - plot_top / H, panel_w / W, (plot_top - strip_top) / H])
    sax.set_xticks([])
    sax.set_yticks([])
    sax.set_facecolor("#D9D9D9")
    for sp in sax.spines.values():
        sp.set_color(DARK)
        sp.set_linewidth(1.2)
    sax.text(0.5, 0.47, panel_titles[i], ha="center", va="center", fontsize=TICK_FS,
             color="#1A1A1A", transform=sax.transAxes)
    axes.append(ax)

for p, ct, b, pts, dens in series:
    arr = np.array(pts)
    size = SIZES[dens] * (1.25 if b == 1 else 1.0)
    axes[p].scatter(arr[:, 0], arr[:, 1], s=size, marker=batch_markers[b],
                    color=cell_colors[cell_types.index(ct)], alpha=ALPHAS[dens], linewidths=0)

fig.text(1194 / W, 1 - 668 / H, "UMAP1", ha="center", va="center", fontsize=TITLE_FS)
fig.text(26 / W, 1 - 346 / H, "UMAP2", ha="center", va="center", rotation=90, fontsize=TITLE_FS)

# legend drawn in pixel coordinates
lax = fig.add_axes([0, 0, 1, 1])
lax.set_xlim(0, W)
lax.set_ylim(H, 0)
lax.axis("off")
lax.patch.set_alpha(0)

lax.text(12, 776, "cell_type", ha="left", va="center", fontsize=TITLE_FS)
col_marker_x = [180, 463, 748, 1003, 1277]
col_text_x = [220, 503, 786, 1041, 1316]
row_y = [750, 797]
for k, ct in enumerate(cell_types):
    c, r = divmod(k, 2)
    lax.scatter([col_marker_x[c]], [row_y[r]], s=95, color=cell_colors[k], linewidths=0)
    lax.text(col_text_x[c], row_y[r], ct, ha="left", va="center", fontsize=TICK_FS)

lax.text(1690, 751, "batch", ha="left", va="center", fontsize=TITLE_FS)
batch_marker_x = [1809, 2110]
batch_text_x = [1846, 2149]
for k, name in enumerate(batches):
    lax.scatter([batch_marker_x[k]], [750], s=22, marker=batch_markers[k], color="#7F7F7F",
                linewidths=0)
    lax.text(batch_text_x[k], 750, name, ha="left", va="center", fontsize=TICK_FS)

fig.savefig("out.png", dpi=DPI)
